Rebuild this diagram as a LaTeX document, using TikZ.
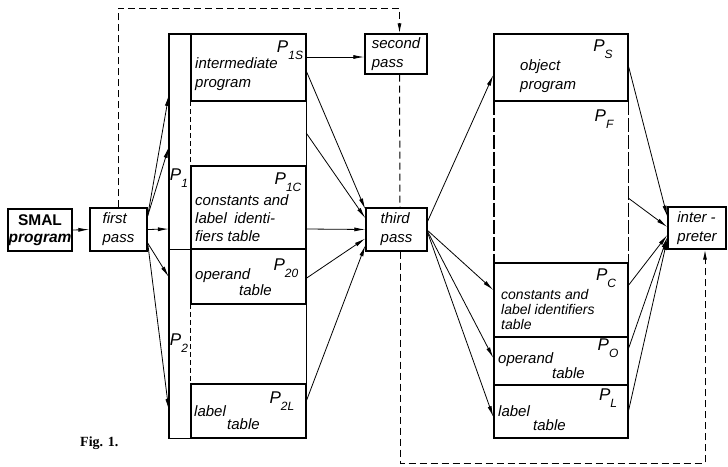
\documentclass[tikz,border=0pt]{standalone}
\usepackage{fontspec}
\setmainfont{Liberation Sans}
\newfontfamily\captionserif{Liberation Serif}
\usetikzlibrary{arrows.meta}
% memory-area tag: italic P with a lowered index
\newcommand\memP[1]{\textit{P}\raisebox{-6.5pt}{\fontsize{12}{12}\selectfont\itshape #1}}

\begin{document}
\begin{tikzpicture}[x=1pt,y=-1pt,
  box/.style={draw, line width=1.4pt, rectangle, inner sep=0pt},
  area/.style={rectangle, inner sep=0pt, draw=none},
  rim/.style={line width=1.4pt},
  gapline/.style={line width=1.2pt, dash pattern=on 5pt off 3pt},
  gapr/.style={line width=1.4pt, dash pattern=on 14pt off 3pt},
  txt/.style={font=\fontsize{15}{19}\selectfont\itshape, inner sep=0pt, align=left, anchor=north west},
  ptag/.style={font=\fontsize{17}{17}\selectfont\itshape, inner sep=0pt},
  arr/.style={line width=0.8pt, -{Latex[length=11pt,width=4pt]}},
  dsh/.style={line width=1pt, dash pattern=on 7pt off 4pt},
  dsharr/.style={dsh, -{Latex[length=10pt,width=4pt]}},
]
\useasboundingbox (0,0) rectangle (728,466);

% ---- processing steps
\node[box, line width=2pt, minimum width=64pt, minimum height=42pt, align=center,
      font=\fontsize{15.5}{17}\selectfont\bfseries] (smal) at (40,230) {SMAL\\\itshape program};
\node[box, txt, anchor=center, minimum width=57pt, minimum height=43pt] (fp) at (118.5,229.5) {first\\pass};
\node[box, txt, anchor=center, minimum width=62pt, minimum height=40pt] (sp) at (396,54) {second\\pass};
\node[box, txt, anchor=center, minimum width=61pt, minimum height=43pt] (tp) at (396.5,229.5) {third\\pass};
\node[box, txt, anchor=center, minimum width=58pt, minimum height=42pt] (ip) at (697,228) {inter -\\preter};

% ---- left memory: P1 / P2 strip
\node[area, minimum width=22pt, minimum height=215pt] (p1) at (180,141.5) {};
\node[area, minimum width=22pt, minimum height=189pt] (p2) at (180,343.5) {};
\draw[rim] (p1.north east) -- (p1.north west) -- (p2.south west) -- (p2.south east);
\draw[rim] (p1.south west) -- (p1.south east);
\node[ptag] (p1tag) at (179,178) {\memP{1}};
\node[ptag] (p2tag) at (179,343) {\memP{2}};

% ---- left memory: sections
\node[box, minimum width=115pt, minimum height=67pt] (li) at (248.5,67.5) {};
\node[area, minimum width=115pt, minimum height=65pt] (lb1) at (248.5,133.5) {};
\draw[rim] (lb1.north east) -- (lb1.south east);
\draw[gapline] (lb1.north west) -- (lb1.south west);
\node[box, minimum width=115pt, minimum height=83pt] (lc) at (248.5,207.5) {};
\node[box, minimum width=115pt, minimum height=55pt] (lo) at (248.5,276.5) {};
\node[area, minimum width=115pt, minimum height=80pt] (lb2) at (248.5,344) {};
\draw[rim] (lb2.north east) -- (lb2.south east);
\draw[gapline] (lb2.north west) -- (lb2.south west);
\node[box, minimum width=115pt, minimum height=54pt] (ll) at (248.5,411) {};

\node[txt] (tli) at (195,57) {intermediate\\program};
\node[ptag] (tli2) at (290,50) {\memP{1S}};
\node[txt, font=\fontsize{15}{18}\selectfont\itshape] (tlc) at (195,194) {constants and\\label\enspace identi-\\fiers table};
\node[ptag] (tlc2) at (288,182) {\memP{1C}};
\node[txt, font=\fontsize{15}{16}\selectfont\itshape] (tlo) at (195,268) {operand\\\hspace*{44pt}table};
\node[ptag] (tlo2) at (286,268) {\memP{20}};
\node[txt, font=\fontsize{15}{13}\selectfont\itshape] (tll) at (194,405) {label\\\hspace*{33pt}table};
\node[ptag] (tll2) at (282,401) {\memP{2L}};

% ---- right memory
\node[box, minimum width=134pt, minimum height=67pt] (rs) at (561,67.5) {};
\node[area, minimum width=134pt, minimum height=162pt] (rf) at (561,182) {};
\draw[gapr] (rf.north west) -- (rf.south west);
\draw[gapr] (rf.north east) -- (rf.south east);
\node[box, minimum width=134pt, minimum height=74pt] (rc) at (561,300) {};
\node[box, minimum width=134pt, minimum height=48pt] (ro) at (561,361) {};
\node[box, minimum width=134pt, minimum height=53pt] (rl) at (561,411.5) {};

\node[txt] (trs) at (520,59) {object\\program};
\node[ptag] (trs2) at (603,49) {\memP{S}};
\node[ptag] (trf) at (604,119) {\memP{F}};
\node[ptag] (trc2) at (606,278) {\memP{C}};
\node[txt, font=\fontsize{14}{15}\selectfont\itshape] (trc) at (501,289) {constants and\\label identifiers\\table};
\node[ptag] (tro2) at (608,348) {\memP{O}};
\node[txt, font=\fontsize{15}{13}\selectfont\itshape] (tro) at (498,352) {operand\\\hspace*{54pt}table};
\node[ptag] (trl2) at (608,398) {\memP{L}};
\node[txt, font=\fontsize{15}{14}\selectfont\itshape] (trl) at (498,405) {label\\\hspace*{35pt}table};

% ---- data flow
\draw[arr] (smal.east) -- (fp.west);

\draw[arr] (fp.25) -- ([yshift=46.5pt]p1.west);
\draw[arr] (fp.25) -- ([yshift=-5.5pt]p1.west);
\draw[arr] (fp.east) -- ([yshift=-87.5pt]p1.west);
\draw[arr] (fp.-25) -- ([yshift=66.5pt]p2.west);
\draw[arr] (fp.-25) -- ([yshift=-66.5pt]p2.west);

\coordinate (liout) at ([yshift=10.5pt]li.east);
\draw[arr] (liout) -- (sp.west |- liout);
\draw[arr] ([yshift=-4.5pt]li.east) -- (tp.147);
\draw[arr] ([yshift=0.5pt]lb1.east) -- (tp.160);
\draw[arr] ([yshift=-21.5pt]lc.east) -- (tp.west);
\draw[arr] ([yshift=-1.5pt]lo.east) -- (tp.196);
\draw[arr] ([yshift=11pt]ll.east) -- (tp.207);

\draw[arr] (tp.15) -- ([yshift=-7.5pt]rs.west);
\draw[arr] (tp.-2) -- ([yshift=10pt]rc.west);
\draw[arr] (tp.-4) -- ([yshift=3pt]ro.west);
\draw[arr] (tp.-6) -- ([yshift=-5.5pt]rl.west);

\draw[arr] ([yshift=0.5pt]rs.east) -- (ip.159);
\draw[arr] ([yshift=-16pt]rf.east) -- ([yshift=1pt]ip.west);
\draw[arr] ([yshift=15pt]rc.east) -- ([yshift=-7pt]ip.west);
\draw[arr] ([yshift=13pt]ro.east) -- ([yshift=-9pt]ip.west);
\draw[arr] ([yshift=1.5pt]rl.east) -- ([yshift=-11pt]ip.west);

% ---- control flow (dashed)
\coordinate (topline) at (0,8);
\coordinate (botline) at (0,463);
\coordinate (spn) at ([xshift=3.5pt]sp.north);
\coordinate (sps) at ([xshift=3.5pt]sp.south);
\coordinate (tpn) at ([xshift=3.5pt]tp.north);
\coordinate (tps) at ([xshift=3.5pt]tp.south);
\coordinate (ips) at ([xshift=8pt]ip.south);
\draw[dsharr] (fp.north) -- (fp.north |- topline) -- (spn |- topline) -- (spn);
\draw[dsh] (sps) -- (tpn);
\draw[dsharr] (tps) -- (tps |- botline) -- (ips |- botline) -- (ips);

\node[font=\captionserif\bfseries\fontsize{14}{14}\selectfont, anchor=base west, inner sep=0pt] (figcap) at (80,446) {Fig. 1.};
\end{tikzpicture}
\end{document}
